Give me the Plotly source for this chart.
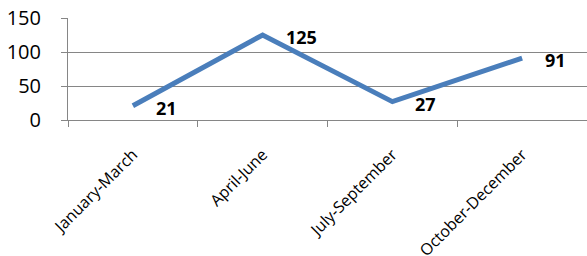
import plotly.graph_objects as go

categories = ["January-March", "April-June", "July-September", "October-December"]
values = [21, 125, 27, 91]
y_ticks = [0, 50, 100, 150]

FONT = "Open Sans"
GRID = "#868686"

fig = go.Figure()
fig.add_trace(go.Scatter(
    x=categories, y=values, mode="lines",
    line=dict(color="#4A7EBB", width=5),
    hoverinfo="skip", showlegend=False, cliponaxis=False,
))

for c, v in zip(categories, values):
    fig.add_annotation(
        x=c, y=v, text=f"<b>{v}</b>", showarrow=False,
        xanchor="left", yanchor="middle", xshift=21, yshift=-2,
        font=dict(family=FONT, size=18, color="#000000"),
    )

fig.update_layout(
    width=587, height=256,
    margin=dict(l=68, r=0, t=18, b=136, autoexpand=False),
    paper_bgcolor="white", plot_bgcolor="white",
    font=dict(family=FONT, color="#000000"),
)
fig.update_xaxes(
    type="category", range=[-0.5, 3.5], automargin=False,
    tickson="boundaries", ticks="outside", ticklen=6, tickcolor=GRID,
    showgrid=False, showline=True, linecolor=GRID, linewidth=1,
    tickangle=-45, tickfont=dict(family=FONT, size=16),
    ticklabelstandoff=18,
)
fig.update_yaxes(
    range=[0, 150], tickvals=y_ticks, automargin=False,
    ticks="outside", ticklen=6, tickcolor=GRID,
    showgrid=True, gridcolor=GRID, gridwidth=1,
    showline=True, linecolor=GRID, linewidth=1,
    zeroline=False,
    tickfont=dict(family=FONT, size=20),
    ticklabelstandoff=16,
)

fig.write_html(
    "out.html",
    config={"displayModeBar": False},
    post_script="document.body.style.margin='0';document.body.style.overflow='hidden';",
)
